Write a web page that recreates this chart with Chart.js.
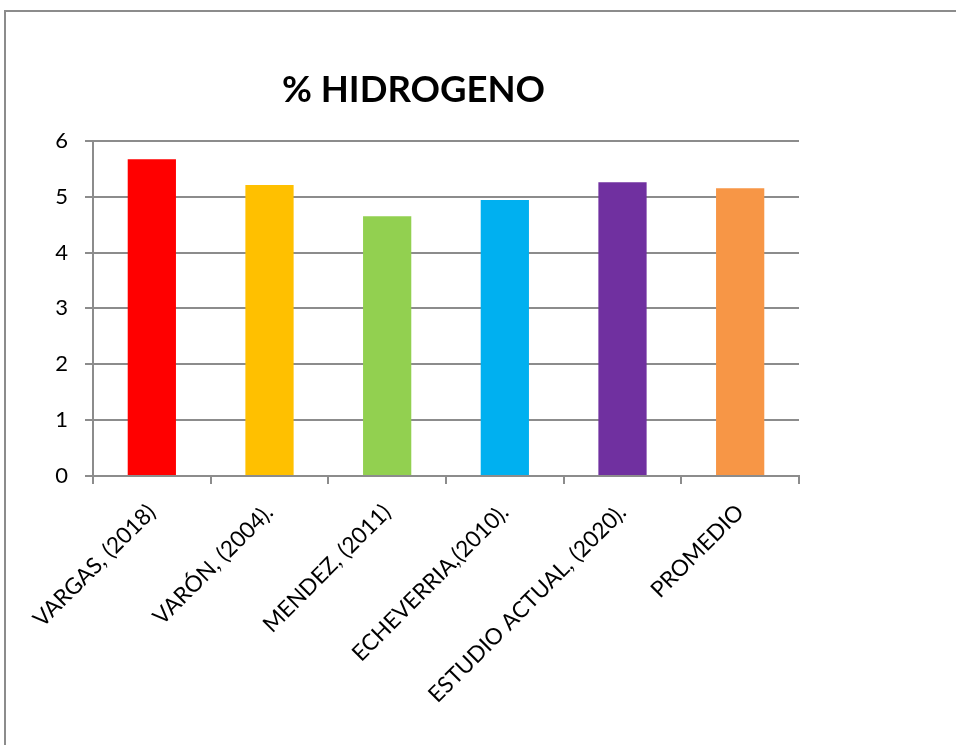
<!DOCTYPE html>
<html>
<head>
<meta charset="utf-8">
<script src="https://cdn.jsdelivr.net/npm/chart.js@4"></script>
<style>
	body { margin: 0; background: #fff; overflow: hidden; }
	#frame {
		position: absolute; left: 4px; top: 10px;
		width: 1200px; height: 1000px;
		border-left: 2px solid #8c8c8c;
		border-top: 2px solid #8c8c8c;
	}
	#wrap { position: absolute; left: 0; top: 0; width: 956px; height: 745px; }
</style>
</head>
<body>
<div id="frame"></div>
<div id="wrap"><canvas id="myChart" width="956" height="745"></canvas></div>
<script>
let labels = ['VARGAS, (2018)', 'VARÓN, (2004).', 'MENDEZ, (2011)', 'ECHEVERRIA,(2010).', 'ESTUDIO ACTUAL, (2020).', 'PROMEDIO']
let hidrogeno = [5.67, 5.21, 4.65, 4.94, 5.26, 5.15]
let colores = ['#FF0000', '#FFC000', '#92D050', '#00B0F0', '#7030A0', '#F79646']
let yTicks = [0, 1, 2, 3, 4, 5, 6]

const fontName = 'Lato, "Open Sans", sans-serif'
const gris = '#8c8c8c'

window.onload = function() {
	new Chart('myChart', {
		type: 'bar',
		data: {
			labels: labels,
			datasets: [{
				label: '% HIDROGENO',
				data: hidrogeno,
				backgroundColor: colores,
				barPercentage: 0.41,
				categoryPercentage: 1
			}]
		},
		options: {
			responsive: false,
			animation: false,
			layout: { padding: { left: 28, right: 157, top: 0, bottom: 0 } },
			plugins: {
				legend: { display: false },
				tooltip: { enabled: false },
				title: {
					display: true,
					text: '% HIDROGENO',
					color: '#000',
					font: { family: fontName, size: 36.5, weight: 'bold', lineHeight: 1.2 },
					padding: { top: 68, bottom: 29 }
				}
			},
			scales: {
				x: {
					grid: { offset: true, drawOnChartArea: false, color: gris, lineWidth: 2, tickLength: 8 },
					border: { color: gris, width: 2 },
					ticks: {
						color: '#000',
						font: { family: fontName, size: 22.5 },
						minRotation: 45, maxRotation: 45,
						padding: 15
					},
					afterFit: function(scale) { scale.height = 269 }
				},
				y: {
					min: 0, max: 6,
					afterBuildTicks: function(scale) { scale.ticks = yTicks.map(v => ({ value: v })) },
					grid: { color: gris, lineWidth: 2, tickLength: 8 },
					border: { color: gris, width: 2 },
					ticks: {
						color: '#000',
						font: { family: fontName, size: 22 },
						padding: 17
					},
					afterFit: function(scale) { scale.width = 65 }
				}
			}
		}
	})
}
</script>
</body>
</html>
